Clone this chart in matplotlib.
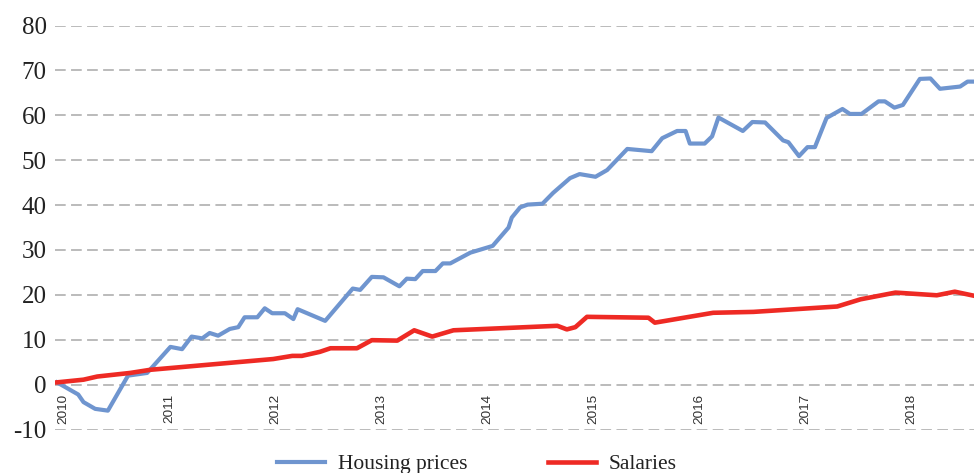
import numpy as np
import matplotlib.pyplot as plt

# housing prices vs salaries, % change since 2010
house_t = [2010.00, 2010.20, 2010.25, 2010.36, 2010.48, 2010.67, 2010.85, 2011.07, 2011.18,
           2011.27, 2011.37, 2011.44, 2011.52, 2011.63, 2011.71, 2011.77, 2011.89, 2011.96,
           2012.03, 2012.15, 2012.23, 2012.27, 2012.53, 2012.79, 2012.86, 2012.97, 2013.08,
           2013.23, 2013.30, 2013.38, 2013.45, 2013.57, 2013.64, 2013.71, 2013.90, 2014.11,
           2014.26, 2014.29, 2014.37, 2014.44, 2014.58, 2014.68, 2014.84, 2014.93, 2015.08,
           2015.19, 2015.38, 2015.61, 2015.71, 2015.85, 2015.93, 2015.97, 2016.11, 2016.18,
           2016.24, 2016.47, 2016.56, 2016.68, 2016.85, 2016.90, 2017.00, 2017.08, 2017.15,
           2017.26, 2017.41, 2017.48, 2017.59, 2017.75, 2017.81, 2017.90, 2017.98, 2018.14,
           2018.24, 2018.33, 2018.52, 2018.59, 2018.67]
house_v = [0.5, -2.2, -3.9, -5.4, -5.8, 2.0, 2.6, 8.4, 7.9,
           10.7, 10.3, 11.5, 10.9, 12.4, 12.8, 15.0, 15.0, 17.0,
           15.9, 15.9, 14.6, 16.8, 14.2, 21.4, 21.1, 24.0, 23.9,
           21.9, 23.6, 23.5, 25.3, 25.3, 27.0, 27.0, 29.4, 30.9,
           35.0, 37.2, 39.5, 40.1, 40.3, 42.7, 46.0, 46.9, 46.3,
           47.8, 52.5, 52.0, 54.9, 56.5, 56.5, 53.7, 53.7, 55.3,
           59.5, 56.5, 58.5, 58.4, 54.4, 54.0, 50.9, 52.9, 52.9,
           59.4, 61.4, 60.3, 60.3, 63.1, 63.1, 61.7, 62.3, 68.1,
           68.2, 65.9, 66.4, 67.5, 67.5]

wage_t = [2010.00, 2010.25, 2010.38, 2010.69, 2010.88, 2012.04, 2012.22, 2012.31, 2012.48,
          2012.58, 2012.83, 2012.97, 2013.21, 2013.37, 2013.54, 2013.74, 2014.72, 2014.81,
          2014.89, 2015.00, 2015.58, 2015.64, 2016.19, 2016.57, 2017.36, 2017.58, 2017.91,
          2018.30, 2018.47, 2018.67]
wage_v = [0.5, 1.1, 1.8, 2.6, 3.3, 5.7, 6.4, 6.4, 7.3,
          8.1, 8.1, 9.9, 9.8, 12.1, 10.7, 12.1, 13.1, 12.3,
          12.8, 15.1, 14.9, 13.8, 16.0, 16.2, 17.4, 19.0, 20.5,
          19.9, 20.7, 19.7]

years = list(range(2010, 2019))

fig = plt.figure(figsize=(9.74, 4.73), dpi=100)
ax = fig.add_axes([55 / 974, 1 - 429.5 / 473, 1 - 55 / 974, 404 / 473])

ax.plot(house_t, house_v, color='#6f95cf', lw=3.0, solid_joinstyle='round', label='Housing prices', zorder=3)
ax.plot(wage_t, wage_v, color='#ee2a24', lw=3.3, solid_joinstyle='round', label='Salaries', zorder=4)

ax.set_xlim(2010 - 2 / 106, 2010 + 917 / 106)
ax.set_ylim(-10, 80)

# y axis: dashed grid, serif labels
ax.set_yticks(range(-10, 81, 10))
ax.set_yticklabels([str(v) for v in range(-10, 81, 10)], fontfamily='Liberation Serif',
                   fontsize=18, color='#222222')
ax.yaxis.grid(True, color='#a8a8a8', linestyle=(0, (7, 3.5)), linewidth=1.1)
ax.tick_params(axis='y', length=0, pad=6)

# x axis: year labels hang below the zero line
ax.spines['bottom'].set_position(('data', 0))
for s in ax.spines.values():
    s.set_visible(False)
ax.set_xticks([y + 0.06 for y in years])
ax.set_xticklabels([str(y) for y in years], rotation=90, fontfamily='Liberation Sans',
                   fontsize=9.7, color='#333333', va='top', ha='center')
ax.tick_params(axis='x', length=0, pad=6.5)
ax.set_axisbelow(True)

fig.legend(loc='center left', bbox_to_anchor=(277 / 974, 1 - 464 / 473), ncol=2, frameon=False,
           prop={'family': 'Liberation Serif', 'size': 15.5}, handlelength=2.25, handletextpad=0.6,
           columnspacing=3.7, borderpad=0, borderaxespad=0, labelcolor='#222222')

fig.savefig('out.png', dpi=100)
